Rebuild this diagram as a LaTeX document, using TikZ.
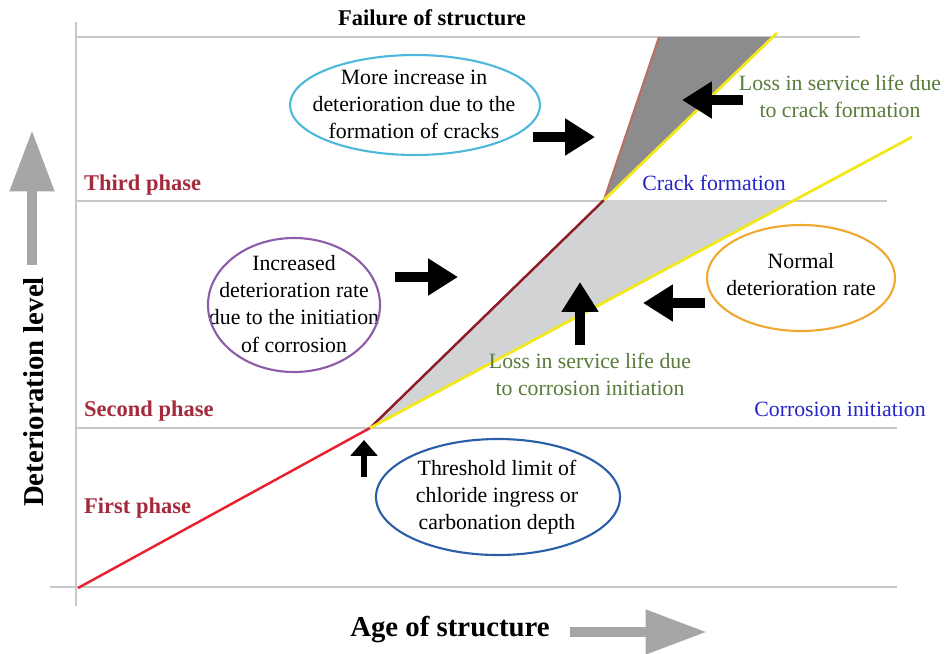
\documentclass[tikz,border=0pt]{standalone}
\usepackage{fontspec}
\setmainfont{Liberation Serif}
\usetikzlibrary{arrows.meta}
\definecolor{phasered}{HTML}{A52A3C}
\definecolor{labelblue}{HTML}{2424C8}
\definecolor{lossgreen}{HTML}{587A3A}
\definecolor{gridgrey}{HTML}{C8C8C8}
\definecolor{axisgrey}{HTML}{A6A6A6}
\definecolor{lightfill}{HTML}{D1D3D4}
\definecolor{darkfill}{HTML}{8C8C8E}
\definecolor{linered}{HTML}{E82030}
\definecolor{linebrown}{HTML}{8E1C24}
\definecolor{linesalmon}{HTML}{B87060}
\definecolor{lineyellow}{HTML}{F2E81C}
\definecolor{ovalcyan}{HTML}{4DB8DA}
\definecolor{ovalpurple}{HTML}{8C5CA8}
\definecolor{ovalorange}{HTML}{F0A830}
\definecolor{ovalblue}{HTML}{2A5EA6}
\tikzset{
  gridline/.style={gridgrey, line width=0.8pt},
  phase/.style={anchor=west, text=phasered, font=\fontsize{12.8}{15}\selectfont\bfseries},
  axislabel/.style={font=\fontsize{16.4}{19}\selectfont\bfseries},
  plain/.style={align=center, inner sep=0pt, font=\fontsize{12.4}{15.4}\selectfont},
  oval/.style={line width=1.2pt},
  blkarrow/.style={line width=5.6pt, -{Triangle[width=20pt,length=17pt]}},
  smallarrow/.style={line width=3.4pt, -{Triangle[width=15pt,length=9pt]}},
  greyarrow/.style={axisgrey, line width=6pt, -{Triangle[width=24pt,length=35pt]}}
}
\begin{document}
\begin{tikzpicture}[x=0.02cm, y=-0.02cm]
\useasboundingbox (0,0) rectangle (946,653);
% grid
\draw[gridline] (76,37) -- (860,37);
\draw[gridline] (76,201) -- (887,201);
\draw[gridline] (76,428) -- (897,428);
\draw[gridline] (50,587) -- (897,587);
\draw[gridline] (76,22) -- (76,606);
% points on the curves
\coordinate (start) at (78,588);
\coordinate (corr) at (370,428);
\coordinate (crack) at (604,200);
\coordinate (fail) at (659,37);
\coordinate (normend) at (912,137);
\coordinate (crackend) at (777,33);
% loss in service life
\fill[lightfill] (corr) -- (crack) -- (794,200) -- cycle;
\fill[darkfill] (crack) -- (fail) -- (773,37) -- cycle;
% deterioration curves
\draw[linered, line width=1.4pt] (start) -- (corr);
\draw[linebrown, line width=1.4pt] (corr) -- (crack);
\draw[linesalmon, line width=1.2pt] (crack) -- (fail);
\draw[lineyellow, line width=1.6pt] (corr) -- (normend);
\draw[lineyellow, line width=1.6pt] (crack) -- (crackend);
%
% arrows
\draw[greyarrow] (32,265) -- (32,130);
\draw[greyarrow] (570,632) -- (707,632);
\draw[blkarrow] (533,137) -- (595,137);
\draw[blkarrow] (395,277) -- (458,277);
\draw[blkarrow] (743,100) -- (682,100);
\draw[blkarrow] (705,303) -- (643,303);
\draw[blkarrow] (580,345) -- (580,282);
\draw[smallarrow] (364,477) -- (364,440);
%
% labels
\node[font=\fontsize{12.8}{15}\selectfont\bfseries] (failure) at (432,18) {Failure of structure};
\node[phase] (third) at (78,185) {Third phase};
\node[phase] (second) at (78,411) {Second phase};
\node[phase] (first) at (78,508) {First phase};
\node[plain, text=labelblue] (crackform) at (714,183) {Crack formation};
\node[plain, text=labelblue] (corrinit) at (840,409) {Corrosion initiation};
\node[plain, text=lossgreen] (losscrack) at (840,96) {Loss in service life due\\to crack formation};
\node[plain, text=lossgreen] (losscorr) at (590,374) {Loss in service life due\\to corrosion initiation};
\node[axislabel, rotate=90] (ylab) at (34,392) {Deterioration level};
\node[axislabel] (xlab) at (450,630) {Age of structure};
%
% ovals
\node[plain] (more) at (414,104) {More increase in\\deterioration due to the\\formation of cracks};
\draw[oval, ovalcyan] (415,105) ellipse [x radius=125, y radius=50];
\node[plain] (increased) at (294,304) {Increased\\deterioration rate\\due to the initiation\\of corrosion};
\draw[oval, ovalpurple] (294,305) ellipse [x radius=86, y radius=67];
\node[plain] (normal) at (801,275) {Normal\\deterioration rate};
\draw[oval, ovalorange] (801,278) ellipse [x radius=94, y radius=53];
\node[plain] (threshold) at (497,497) {Threshold limit of\\chloride ingress or\\carbonation depth};
\draw[oval, ovalblue] (498,497) ellipse [x radius=122, y radius=58];
\end{tikzpicture}
\end{document}
